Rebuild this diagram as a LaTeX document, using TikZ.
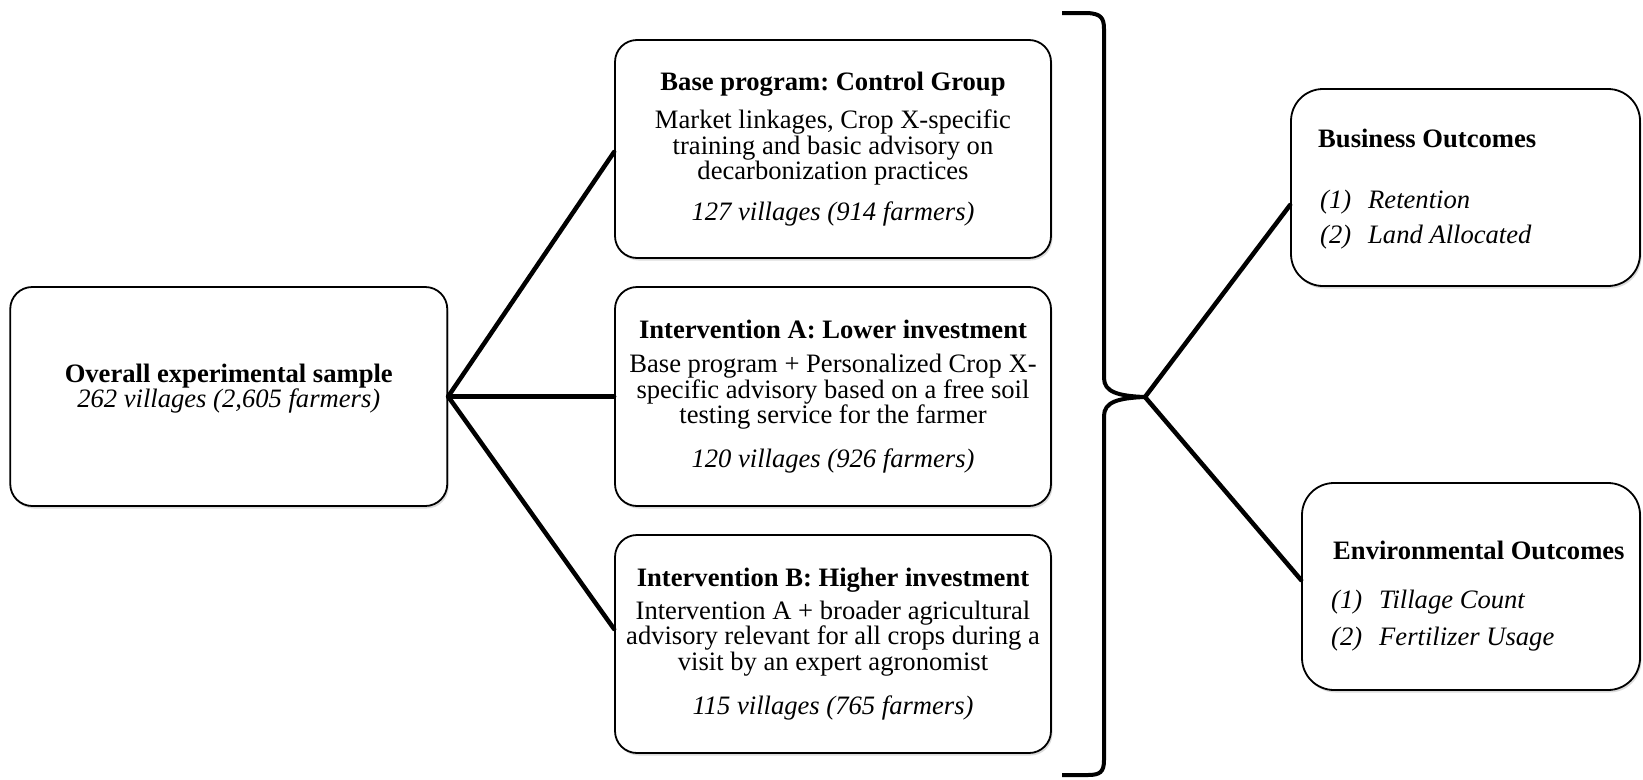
\documentclass[tikz,border=0pt]{standalone}
\usepackage{fontspec}
\setmainfont{Liberation Serif}
\frenchspacing
\usetikzlibrary{shadows,calc}
\begin{document}
\begin{tikzpicture}[x=1pt,y=-1pt,
  box/.style={draw=black, line width=1.8pt, fill=white, rounded corners=22pt,
    inner sep=0pt, align=center, font=\fontsize{26.6}{24}\selectfont,
    drop shadow={shadow xshift=1.5pt, shadow yshift=-2.5pt, opacity=0.28}},
  outbox/.style={box, rounded corners=32pt},
  conn/.style={line width=4.5pt, line cap=round, line join=round},
  txt/.style={inner sep=0pt, anchor=base west, font=\fontsize{26.6}{24}\selectfont}]
\useasboundingbox (0,0) rectangle (1643,779);
\fill[white] (0,0) rectangle (1643,779);

% left box
\node[box, minimum width=437pt, minimum height=219pt] (sample) at (228.75,396.5) {};
\node[inner sep=0pt, align=center, font=\fontsize{26.6}{25}\selectfont] (sampletxt)
  at (228.75,389) {\textbf{Overall experimental sample}\\\textit{262 villages (2,605 farmers)}};

% middle boxes
\node[box, minimum width=436pt, minimum height=218pt] (base) at (833,149)
  {\textbf{Base program: Control Group}\\[13pt]
   Market linkages, Crop X-specific\\
   training and basic advisory on\\
   decarbonization practices\\[16pt]
   \textit{127 villages (914 farmers)}};
\node[box, minimum width=436pt, minimum height=219pt] (intA) at (833,396.5)
  {\textbf{Intervention A: Lower investment}\\[10pt]
   Base program + Personalized Crop X-\\
   specific advisory based on a free soil\\
   testing service for the farmer\\[18pt]
   \textit{120 villages (926 farmers)}};
\node[box, minimum width=436pt, minimum height=218pt] (intB) at (833,644)
  {\textbf{Intervention B: Higher investment}\\[8pt]
   Intervention A + broader agricultural\\
   advisory relevant for all crops during a\\
   visit by an expert agronomist\\[19pt]
   \textit{115 villages (765 farmers)}};

% right boxes
\node[outbox, minimum width=349pt, minimum height=197pt] (biz) at (1465.5,187.5) {};
\node[outbox, minimum width=338pt, minimum height=207pt] (env) at (1471,586.5) {};

\node[txt] (bizt) at (1318,147) {\textbf{Business Outcomes}};
\node[txt] (biz1) at (1320,208) {\itshape\makebox[48pt][l]{(1)}Retention};
\node[txt] (biz2) at (1320,243) {\itshape\makebox[48pt][l]{(2)}Land Allocated};

\node[txt] (envt) at (1333,559) {\textbf{Environmental Outcomes}};
\node[txt] (env1) at (1331,608) {\itshape\makebox[48pt][l]{(1)}Tillage Count};
\node[txt] (env2) at (1331,645) {\itshape\makebox[48pt][l]{(2)}Fertilizer Usage};

% left fan
\coordinate (b1) at ($(base.west)+(0,3)$);
\coordinate (b3) at ($(intB.west)+(0,-15)$);
\draw[conn] (sample.east) -- (b1);
\draw[conn] (sample.east) -- (intA.west);
\draw[conn] (sample.east) -- (b3);

% brace
\coordinate (tip) at (1145,397);
\draw[line width=4pt, line cap=butt, line join=round]
  (1062,13) -- (1088,13) .. controls (1100,14) and (1104,17) .. (1104,29)
  -- (1104,378) .. controls (1104,392) and (1118,396) .. (tip)
  .. controls (1118,398) and (1104,402) .. (1104,416)
  -- (1104,760) .. controls (1104,772) and (1100,775) .. (1088,775)
  -- (1062,775);

% right fan
\coordinate (r1) at ($(biz.west)+(0,17.5)$);
\coordinate (r2) at ($(env.west)+(0,-6.5)$);
\draw[conn] (tip) -- (r1);
\draw[conn] (tip) -- (r2);
\end{tikzpicture}
\end{document}
